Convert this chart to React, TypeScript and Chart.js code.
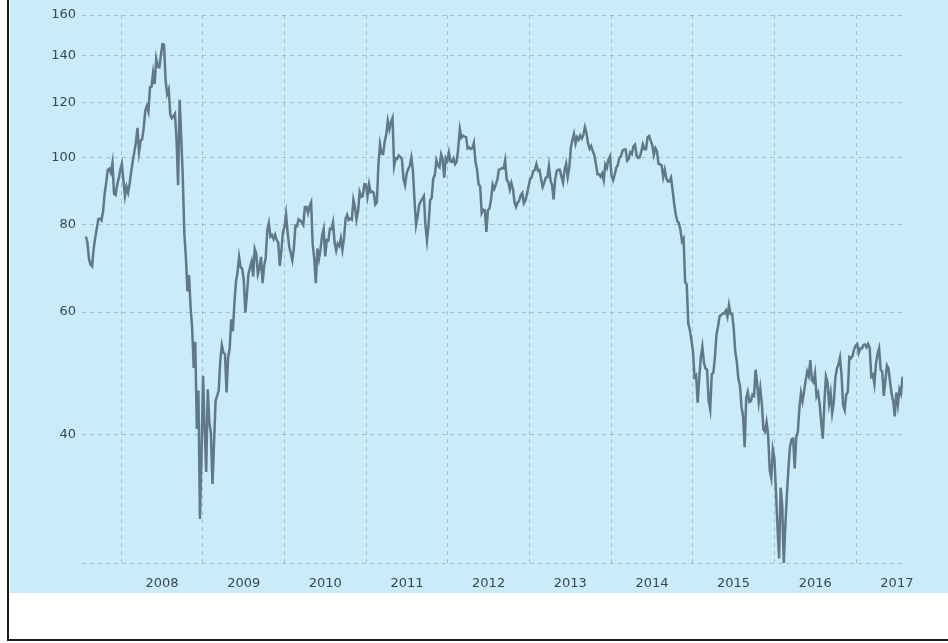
import React, { useEffect, useRef } from "react";
import { Chart, registerables } from "chart.js";

Chart.register(...registerables);

// Weekly WTI crude oil closes (USD / barrel), first week below, one point every 7 days
const firstWeek = "2007-07-27";

const wti2007 = [77.0, 75.5, 71.5, 70.2, 69.8, 74.0, 76.7, 79.1, 81.6, 81.7, 81.2, 83.7, 88.6, 91.9, 95.9, 96.3, 95.1, 98.2, 88.7, 88.3, 91.3, 93.3, 96.0];
const wti2008 = [97.9, 92.7, 88.0, 90.7, 89.0, 91.8, 95.5, 98.8, 101.8, 105.2, 110.2, 101.8, 105.6, 106.2, 110.1, 116.7, 118.5, 116.3, 126.0, 126.3, 132.2, 127.4, 138.5, 134.9, 134.6, 140.2, 145.3, 145.1, 128.9, 123.3, 125.1, 115.2, 113.8, 114.6, 115.5, 106.2, 91.2, 120.9, 106.9, 93.9, 77.7, 71.9, 64.2, 67.8, 61.0, 57.0, 49.9, 54.4, 40.8, 46.3, 30.3, 37.7];
const wti2009 = [48.6, 40.8, 35.4, 46.5, 41.7, 40.2, 34.0, 38.9, 44.8, 45.5, 46.3, 51.1, 53.8, 52.5, 52.2, 46.0, 51.6, 53.2, 58.6, 56.3, 61.7, 66.3, 68.4, 72.0, 69.6, 69.2, 66.7, 59.9, 63.6, 68.1, 69.5, 70.9, 67.5, 73.9, 72.7, 68.0, 69.3, 72.0, 66.0, 69.9, 71.8, 78.5, 80.5, 77.0, 77.4, 76.4, 77.5, 76.1, 75.5, 69.9, 73.4, 78.1];
const wti2010 = [79.4, 82.8, 78.0, 74.5, 72.9, 71.2, 74.1, 79.8, 79.7, 81.5, 81.2, 80.7, 80.0, 84.9, 84.9, 83.2, 85.1, 86.2, 75.1, 71.6, 66.0, 74.0, 71.5, 73.8, 77.2, 78.9, 72.1, 76.1, 76.0, 79.0, 78.9, 80.7, 75.4, 73.5, 75.2, 74.6, 76.5, 73.7, 76.5, 81.6, 82.7, 81.3, 81.7, 81.4, 86.9, 84.9, 81.5, 83.8, 89.2, 87.8, 88.0, 91.5, 91.4];
const wti2011 = [88.0, 91.5, 89.1, 89.3, 89.0, 85.6, 86.2, 98.0, 104.4, 101.2, 101.1, 105.4, 107.9, 112.8, 109.7, 112.3, 113.9, 97.2, 99.7, 99.5, 100.6, 100.2, 99.3, 93.0, 91.2, 94.9, 96.2, 97.2, 99.9, 95.7, 86.9, 80.0, 82.3, 85.4, 86.5, 87.2, 88.0, 79.9, 76.0, 80.0, 86.8, 87.4, 93.3, 94.3, 99.0, 97.4, 96.8, 101.0, 99.4, 93.5, 99.7, 98.8];
const wti2012 = [101.6, 98.7, 98.5, 99.6, 97.8, 98.7, 103.2, 109.8, 106.7, 107.4, 107.1, 106.9, 103.0, 103.3, 102.8, 103.1, 104.9, 98.5, 96.1, 91.5, 90.9, 83.2, 84.1, 84.0, 78.2, 84.0, 84.5, 87.1, 91.4, 90.1, 91.4, 92.9, 96.0, 96.2, 96.5, 96.4, 99.0, 92.9, 92.2, 89.9, 91.9, 90.1, 86.3, 84.9, 86.1, 86.7, 88.3, 88.9, 85.9, 86.7, 88.7, 90.8];
const wti2013 = [93.1, 93.6, 95.6, 95.9, 97.8, 95.7, 95.9, 93.1, 90.7, 92.0, 93.5, 93.7, 97.2, 92.7, 91.3, 87.0, 93.0, 95.6, 96.0, 96.0, 93.8, 92.0, 96.0, 97.9, 93.7, 96.6, 103.2, 106.0, 108.1, 104.7, 106.9, 106.0, 107.5, 106.4, 107.7, 110.5, 108.2, 104.7, 102.9, 103.8, 102.0, 100.8, 97.9, 94.6, 94.6, 93.8, 94.8, 92.7, 97.7, 96.6, 99.3, 100.3];
const wti2014 = [94.0, 92.7, 94.4, 96.6, 97.5, 99.9, 100.3, 102.2, 102.6, 102.6, 98.9, 99.5, 101.7, 101.1, 103.7, 104.3, 100.6, 99.8, 100.0, 102.0, 104.4, 102.7, 102.7, 106.9, 107.3, 105.7, 104.1, 100.8, 103.1, 102.1, 97.9, 97.7, 97.4, 93.7, 96.0, 93.3, 92.3, 92.4, 93.5, 89.7, 85.8, 82.8, 81.0, 80.5, 78.7, 75.8, 76.5, 66.2, 65.8, 57.8, 56.5, 54.7];
const wti2015 = [52.7, 48.4, 48.7, 44.5, 48.2, 51.7, 53.5, 50.8, 49.8, 49.6, 44.8, 43.5, 48.9, 49.1, 51.6, 55.7, 57.2, 59.2, 59.4, 59.7, 59.7, 60.3, 59.1, 61.4, 59.6, 59.6, 56.9, 52.7, 50.9, 48.1, 47.1, 43.9, 42.5, 38.4, 45.2, 46.1, 44.6, 44.7, 45.7, 45.5, 49.6, 47.3, 44.6, 46.6, 44.3, 40.7, 40.4, 41.7, 40.0, 35.6, 34.7, 38.1];
const wti2016 = [37.0, 33.2, 29.4, 26.6, 33.6, 31.7, 26.2, 29.6, 32.8, 35.9, 38.5, 39.4, 39.5, 35.8, 39.7, 40.4, 43.7, 45.9, 44.7, 46.2, 47.8, 49.3, 48.6, 51.2, 47.98, 47.6, 49.0, 45.4, 45.95, 44.2, 41.6, 39.5, 44.5, 48.5, 47.6, 44.4, 45.9, 43.0, 44.5, 48.2, 49.8, 50.4, 51.6, 48.7, 44.1, 43.4, 45.7, 46.1, 51.7, 51.5, 51.9, 53.0, 53.7];
const wti2017 = [54.0, 52.4, 53.2, 53.2, 53.8, 53.9, 53.4, 54.0, 53.3, 48.5, 48.8, 47.3, 50.6, 52.2, 53.2, 49.6, 49.3, 45.5, 47.8, 50.3, 49.8, 47.7, 45.8, 44.7, 42.5, 46.0, 44.2, 46.5, 45.8, 48.5];

const yTicks = [40, 60, 80, 100, 120, 140, 160];
const yMin = 26.2;
const yMax = 160;
const yearLabels = [2008, 2009, 2010, 2011, 2012, 2013, 2014, 2015, 2016, 2017];
const xMin = 2007.52;
const xMax = 2017.575;

const BG = "#c9ebfc";
const LINE = "#617886";
const GRID = "rgba(105,135,155,0.42)";
const TEXT = "#3a4752";
const FONT = { family: "'DejaVu Sans', Verdana, sans-serif", size: 13 };

function toDecimalYear(t: number): number {
  const d = new Date(t);
  const y = d.getUTCFullYear();
  const a = Date.UTC(y, 0, 1);
  const b = Date.UTC(y + 1, 0, 1);
  return y + (t - a) / (b - a);
}

export default function App() {
  const ref = useRef<HTMLCanvasElement | null>(null);

  useEffect(() => {
    if (!ref.current) return;
    const values = [
      ...wti2007, ...wti2008, ...wti2009, ...wti2010, ...wti2011, ...wti2012,
      ...wti2013, ...wti2014, ...wti2015, ...wti2016, ...wti2017,
    ];
    const start = Date.parse(firstWeek + "T00:00:00Z");
    const week = 7 * 24 * 3600 * 1000;
    const points = values.map((v, i) => ({ x: toDecimalYear(start + i * week), y: v }));

    const chart = new Chart(ref.current, {
      type: "line",
      data: {
        datasets: [
          {
            data: points,
            borderColor: LINE,
            borderWidth: 2.5,
            pointRadius: 0,
            fill: false,
            tension: 0,
          },
        ],
      },
      options: {
        animation: false,
        responsive: false,
        events: [],
        layout: { padding: { top: 15, right: 45, left: 0, bottom: 0 } },
        plugins: { legend: { display: false }, tooltip: { enabled: false } },
        scales: {
          x: {
            type: "linear",
            min: xMin,
            max: xMax,
            afterBuildTicks: (s: any) => {
              const t: { value: number }[] = [];
              yearLabels.forEach((y) => {
                t.push({ value: y });
                t.push({ value: y + 0.5 });
              });
              s.ticks = t;
            },
            afterFit: (s: any) => {
              s.height = 30;
            },
            grid: {
              color: (ctx: any) =>
                ctx.tick && Number.isInteger(ctx.tick.value) ? GRID : "rgba(0,0,0,0)",
              lineWidth: 1,
              drawTicks: false,
            },
            border: { display: false, dash: [4, 4] },
            ticks: {
              autoSkip: false,
              maxRotation: 0,
              padding: 13,
              color: TEXT,
              font: FONT,
              callback: (v: any) => {
                const n = Number(v);
                return Number.isInteger(n) ? "" : String(Math.floor(n));
              },
            },
          },
          y: {
            type: "logarithmic",
            min: yMin,
            max: yMax,
            afterBuildTicks: (s: any) => {
              s.ticks = [yMin, ...yTicks].map((v) => ({ value: v }));
            },
            afterFit: (s: any) => {
              s.width = 72;
            },
            grid: { color: GRID, lineWidth: 1, drawTicks: false },
            border: { display: false, dash: [4, 4] },
            ticks: {
              padding: 6,
              color: TEXT,
              font: FONT,
              callback: (v: any) => (yTicks.includes(Number(v)) ? String(v) : ""),
            },
          },
        },
      },
    });
    return () => chart.destroy();
  }, []);

  return (
    <div
      style={{
        position: "absolute",
        left: 7,
        top: 0,
        width: 941,
        height: 641,
        boxSizing: "border-box",
        borderLeft: "2px solid #1a1a1a",
        borderBottom: "2px solid #1a1a1a",
        background: "#fff",
      }}
    >
      <div style={{ position: "absolute", left: 1, top: 0, width: 938, height: 593, background: BG }}>
        <canvas ref={ref} width={938} height={593} style={{ width: 938, height: 593, display: "block" }} />
      </div>
    </div>
  );
}
